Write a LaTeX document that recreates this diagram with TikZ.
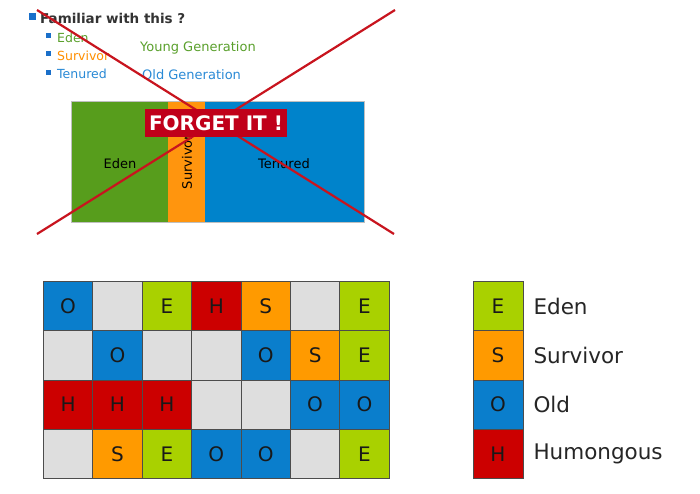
\documentclass[tikz,border=0pt]{standalone}
\usepackage{fontspec}
\setmainfont{DejaVu Sans}
\definecolor{edenG}{HTML}{579D1C}
\definecolor{survO}{HTML}{FF950E}
\definecolor{tenB}{HTML}{0083CB}
\definecolor{txtEden}{HTML}{5AA02C}
\definecolor{txtSurv}{HTML}{FF8F00}
\definecolor{txtTen}{HTML}{2A8AD6}
\definecolor{bulB}{HTML}{1A6FC9}
\definecolor{forgetR}{HTML}{C0001A}
\definecolor{crossR}{HTML}{C8141E}
\definecolor{cE}{HTML}{A9D100}
\definecolor{cS}{HTML}{FF9A00}
\definecolor{cO}{HTML}{0A7ECC}
\definecolor{cH}{HTML}{CC0000}
\definecolor{cF}{HTML}{DEDEDE}
\definecolor{darkT}{HTML}{333333}
\begin{document}
\begin{tikzpicture}[x=1pt,y=-1pt,
  bul/.style={fill=bulB,draw=none},
  toptxt/.style={anchor=base west,inner sep=0pt,font=\fontsize{12.5}{14}\selectfont},
  gentxt/.style={anchor=base west,inner sep=0pt,font=\fontsize{13}{15}\selectfont},
  barlbl/.style={inner sep=0pt,font=\fontsize{13}{15}\selectfont,text=black},
  cell/.style={draw=black!70,line width=0.8pt,minimum width=49.4pt,minimum height=49.3pt,inner sep=0pt,anchor=north west,font=\fontsize{20}{22}\selectfont,text=black!90},
  leglbl/.style={anchor=west,inner sep=0pt,font=\fontsize{21.5}{24}\selectfont,text=black!85},
  crossline/.style={draw=crossR,line width=2.2pt}]
\useasboundingbox[fill=white] (0,0) rectangle (700,493);
% top bullets
\fill[bul] (29,12.5) rectangle (36,19.5);
\node[anchor=base west,inner sep=0pt,font=\bfseries\fontsize{13.5}{15}\selectfont,text=darkT] (fam) at (40,23) {Familiar with this ?};
\fill[bul] (46,32.5) rectangle (51,37.5);
\fill[bul] (46,51) rectangle (51,56);
\fill[bul] (46,69.5) rectangle (51,74.5);
\node[toptxt,text=txtEden] (teden) at (57,42) {Eden};
\node[toptxt,text=txtSurv] (tsurv) at (57,60.5) {Survivor};
\node[toptxt,text=txtTen] (tten) at (57,78.5) {Tenured};
\node[gentxt,text=txtEden] (young) at (140,51.5) {Young Generation};
\node[gentxt,text=txtTen] (old) at (142,79) {Old Generation};
% bar
\fill[edenG] (71,101) rectangle (168,222);
\fill[survO] (168,101) rectangle (205,222);
\fill[tenB] (205,101) rectangle (364,222);
\draw[black!25,line width=0.4pt] (71,101) rectangle (364,222);
\node[barlbl,anchor=base] (beden) at (120,168) {Eden};
\node[barlbl,rotate=90] (bsurv) at (187,162) {Survivor};
\node[barlbl,anchor=base] (bten) at (284,168) {Tenured};
% cross
\coordinate (c1a) at (37,10);
\coordinate (c1b) at (394,234);
\coordinate (c2a) at (37,234);
\coordinate (c2b) at (395,10);
\draw[crossline] (c1a) -- (c1b);
\draw[crossline] (c2a) -- (c2b);
% forget it
\node[fill=forgetR,text=white,font=\bfseries\fontsize{20}{22}\selectfont,minimum width=142pt,minimum height=28pt,inner sep=0pt] (forget) at (216,123) {FORGET IT !};
% grid
\foreach \r/\row in {0/{O,,E,H,S,,E},1/{,O,,,O,S,E},2/{H,H,H,,,O,O},3/{,S,E,O,O,,E}}{
  \foreach \l [count=\c from 0] in \row {
    \ifx\l\empty
      \node[cell,fill=cF] (g\r\c) at ({43+49.4*\c},{281+49.3*\r}) {};
    \else
      \node[cell,fill=c\l] (g\r\c) at ({43+49.4*\c},{281+49.3*\r}) {\l};
    \fi
  }
}
% legend
\foreach \l/\t [count=\i from 0] in {E/Eden,S/Survivor,O/Old,H/Humongous}{
  \node[cell,fill=c\l,minimum width=50pt] (k\i) at (472.5,{281+49.3*\i}) {\l};
  \node[leglbl] (kl\i) at ([xshift=10pt]k\i.east) {\t};
}
\end{tikzpicture}
\end{document}
